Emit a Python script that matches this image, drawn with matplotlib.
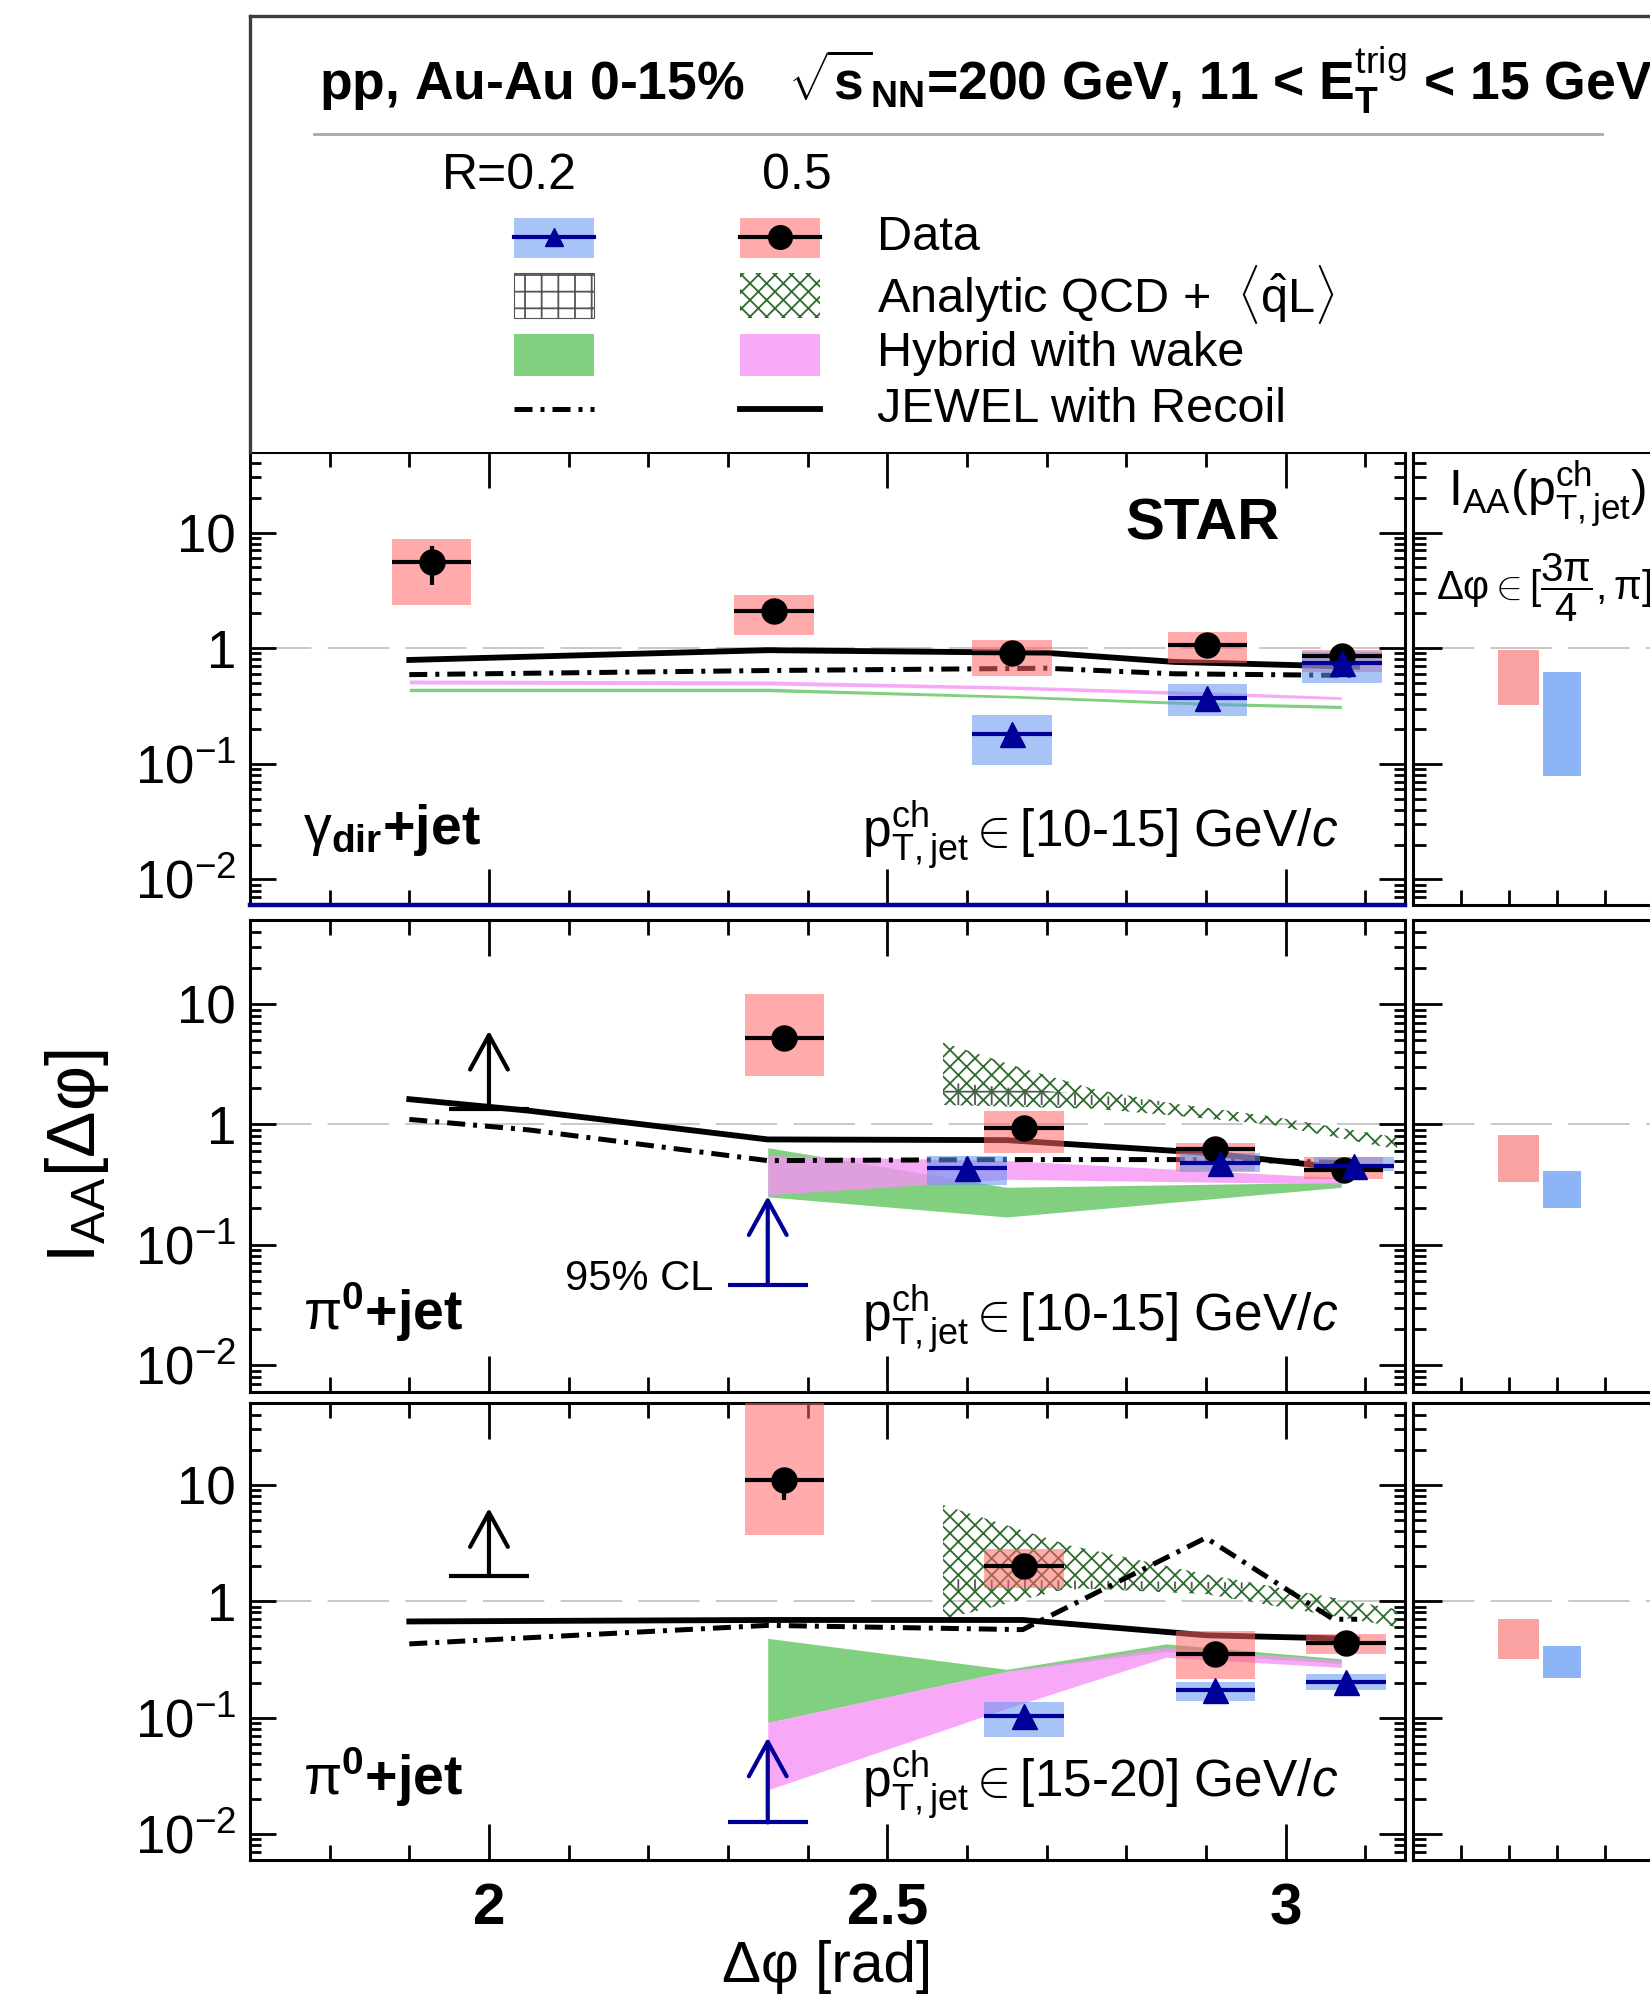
import matplotlib
matplotlib.use("Agg")
import matplotlib.pyplot as plt
from matplotlib.patches import Rectangle
from matplotlib.ticker import FixedLocator, FixedFormatter, MultipleLocator, LogLocator, NullFormatter

# ---------------------------------------------------------------- data
YTICKS = [0.01, 0.1, 1, 10]
YTICK_LABELS = [r'$\mathrm{10^{-2}}$', r'$\mathrm{10^{-1}}$', '1', '10']
XTICKS = [2, 2.5, 3]
XTICK_LABELS = ['2', '2.5', '3']
BIN_HALF = 0.05
INT_CENTERS = [2.2, 3.1]   # R=0.5, R=0.2 positions in the integrated panels

# Panel 1: gamma_dir + jet, pT,jet 10-15
G_R05_X = [1.928, 2.358, 2.657, 2.902, 3.071]
G_R05_Y = [5.6, 2.10, 0.91, 1.06, 0.85]
G_R05_SYS_LO = [2.35, 1.29, 0.575, 0.74, 0.62]
G_R05_SYS_HI = [8.8, 2.86, 1.18, 1.37, 0.97]
G_R05_STAT_LO = [3.55, 1.95, 0.85, 0.98, 0.80]
G_R05_STAT_HI = [7.6, 2.30, 0.98, 1.15, 0.90]
G_R02_X = [2.657, 2.902, 3.071]
G_R02_Y = [0.18, 0.371, 0.74]
G_R02_SYS_LO = [0.097, 0.258, 0.50]
G_R02_SYS_HI = [0.264, 0.489, 0.92]
G_R02_STAT_LO = [0.15, 0.33, 0.68]
G_R02_STAT_HI = [0.21, 0.42, 0.82]
G_JEWEL_X = [1.90, 2.35, 2.70, 2.86, 3.09]
G_JEWEL_R05 = [0.79, 0.96, 0.91, 0.76, 0.69]
G_JEWEL_R02 = [0.59, 0.64, 0.67, 0.60, 0.58]
G_HYB_X = [1.90, 2.35, 2.66, 2.90, 3.07]
G_HYB_R02_LO = [0.42, 0.42, 0.37, 0.32, 0.30]
G_HYB_R02_HI = [0.45, 0.45, 0.39, 0.34, 0.32]
G_HYB_R05_LO = [0.49, 0.48, 0.44, 0.39, 0.36]
G_HYB_R05_HI = [0.53, 0.52, 0.47, 0.42, 0.38]
G_INT_R05 = [0.32, 0.96]
G_INT_R02 = [0.079, 0.62]

# Panel 2: pi0 + jet, pT,jet 10-15
P1_R05_X = [2.371, 2.672, 2.912, 3.073]
P1_R05_Y = [5.18, 0.94, 0.62, 0.42]
P1_R05_SYS_LO = [2.53, 0.58, 0.41, 0.35]
P1_R05_SYS_HI = [12.1, 1.29, 0.70, 0.54]
P1_R05_STAT_LO = [4.6, 0.86, 0.57, 0.39]
P1_R05_STAT_HI = [5.8, 1.02, 0.67, 0.45]
P1_R02_X = [2.600, 2.918, 3.086]
P1_R02_Y = [0.435, 0.48, 0.455]
P1_R02_SYS_LO = [0.316, 0.40, 0.41]
P1_R02_SYS_HI = [0.544, 0.58, 0.54]
P1_R02_STAT_LO = [0.40, 0.45, 0.43]
P1_R02_STAT_HI = [0.47, 0.51, 0.48]
P1_LIM_R05 = [2.0, 1.35, 6.0]      # x, limit, arrow tip
P1_LIM_R02 = [2.35, 0.0464, 0.253]
P1_JEWEL_X = [1.90, 2.05, 2.35, 2.65, 2.90, 3.09]
P1_JEWEL_R05 = [1.62, 1.30, 0.75, 0.74, 0.58, 0.42]
P1_JEWEL_R02 = [1.10, 0.90, 0.50, 0.51, 0.51, 0.48]
P1_HYB_X = [2.35, 2.65, 3.07]
P1_HYB_R02_LO = [0.25, 0.17, 0.30]
P1_HYB_R02_HI = [0.64, 0.30, 0.33]
P1_HYB_R05_LO = [0.26, 0.35, 0.32]
P1_HYB_R05_HI = [0.55, 0.50, 0.36]
P1_ANA_X = [2.57, 2.66, 2.76, 2.85, 2.98, 3.14]
P1_ANA_R05_LO = [1.45, 1.40, 1.35, 1.20, 1.00, 0.62]
P1_ANA_R05_HI = [4.8, 3.06, 1.96, 1.52, 1.17, 0.78]
P1_ANA_R02_X = [2.57, 2.66, 2.85]
P1_ANA_R02_LO = [1.45, 1.45, 1.45]
P1_ANA_R02_HI = [2.25, 2.0, 1.55]
P1_INT_R05 = [0.33, 0.82]
P1_INT_R02 = [0.20, 0.41]

# Panel 3: pi0 + jet, pT,jet 15-20
P2_R05_X = [2.371, 2.672, 2.912, 3.076]
P2_R05_Y = [10.9, 2.0, 0.35, 0.44]
P2_R05_SYS_LO = [3.73, 1.30, 0.216, 0.35]
P2_R05_SYS_HI = [60.0, 2.81, 0.553, 0.52]
P2_R05_STAT_LO = [7.4, 1.85, 0.32, 0.41]
P2_R05_STAT_HI = [13.5, 2.15, 0.38, 0.47]
P2_R02_X = [2.672, 2.912, 3.076]
P2_R02_Y = [0.1035, 0.172, 0.204]
P2_R02_SYS_LO = [0.068, 0.139, 0.172]
P2_R02_SYS_HI = [0.135, 0.202, 0.235]
P2_R02_STAT_LO = [0.095, 0.16, 0.19]
P2_R02_STAT_HI = [0.112, 0.185, 0.22]
P2_LIM_R05 = [2.0, 1.66, 6.3]
P2_LIM_R02 = [2.35, 0.0126, 0.0675]
P2_JEWEL_X = [1.90, 2.35, 2.67, 2.90, 3.06, 3.09]
P2_JEWEL_R05 = [0.67, 0.69, 0.69, 0.51, 0.48, 0.47]
P2_JEWEL_R02 = [0.43, 0.62, 0.57, 3.5, 0.70, 0.70]
P2_HYB_X = [2.35, 2.65, 2.85, 3.07]
P2_HYB_R02_LO = [0.091, 0.25, 0.37, 0.29]
P2_HYB_R02_HI = [0.48, 0.26, 0.43, 0.32]
P2_HYB_R05_LO = [0.024, 0.12, 0.33, 0.27]
P2_HYB_R05_HI = [0.091, 0.25, 0.40, 0.31]
P2_ANA_X = [2.57, 2.73, 2.90, 3.14]
P2_ANA_R05_LO = [0.70, 1.30, 1.15, 0.60]
P2_ANA_R05_HI = [6.7, 3.0, 1.7, 0.85]
P2_ANA_R02_X = [2.57, 2.95]
P2_ANA_R02_LO = [1.25, 1.28]
P2_ANA_R02_HI = [1.55, 1.45]
P2_INT_R05 = [0.316, 0.71]
P2_INT_R02 = [0.22, 0.41]

# ---------------------------------------------------------------- style
plt.rcParams['font.family'] = ['Liberation Sans', 'DejaVu Sans']
plt.rcParams['mathtext.fontset'] = 'custom'
plt.rcParams['mathtext.rm'] = 'Liberation Sans'
plt.rcParams['mathtext.it'] = 'Liberation Sans:italic'
plt.rcParams['mathtext.bf'] = 'Liberation Sans:bold'
plt.rcParams['hatch.linewidth'] = 1.3

W, H = 1650, 2000
RED_FC = (1.0, 0.40, 0.40)
BLUE_FC = (0.38, 0.58, 0.95)
BOX_ALPHA = 0.55
NAVY = '#000099'
GREEN = '#80d080'
PINK = '#f694f6'
HATCH_GREEN = '#2d6b2d'
BRICK_GRAY = '#555555'

fig = plt.figure(figsize=(16.5, 20), dpi=100)


def rect_px(l, t, r, b):
    return [l / W, 1 - b / H, (r - l) / W, (b - t) / H]


def style_main(ax, bottom_labels):
    ax.set_yscale('log')
    ax.set_ylim(0.006, 50)
    ax.set_xlim(1.7, 3.15)
    ax.yaxis.set_major_locator(FixedLocator(YTICKS))
    ax.yaxis.set_major_formatter(FixedFormatter(YTICK_LABELS))
    ax.yaxis.set_minor_locator(LogLocator(base=10, subs=range(2, 10), numticks=30))
    ax.yaxis.set_minor_formatter(NullFormatter())
    ax.xaxis.set_major_locator(FixedLocator(XTICKS))
    ax.xaxis.set_minor_locator(MultipleLocator(0.1))
    ax.tick_params(which='both', direction='in', top=True, right=True, width=2)
    ax.tick_params(axis='x', which='major', length=26, labelsize=42, pad=16)
    ax.tick_params(axis='x', which='minor', length=11)
    ax.tick_params(axis='y', which='major', length=19, labelsize=38, pad=10)
    ax.tick_params(axis='y', which='minor', length=8)
    if bottom_labels:
        ax.xaxis.set_major_formatter(FixedFormatter(XTICK_LABELS))
        for lab in ax.get_xticklabels():
            lab.set_fontweight('bold')
    else:
        ax.tick_params(axis='x', labelbottom=False)
    for s in ax.spines.values():
        s.set_linewidth(2.2)


def style_int(ax):
    ax.set_yscale('log')
    ax.set_ylim(0.006, 50)
    ax.set_xlim(0, (1665 - 1413) / 48.0)
    ax.yaxis.set_major_locator(FixedLocator(YTICKS))
    ax.yaxis.set_minor_locator(LogLocator(base=10, subs=range(2, 10), numticks=30))
    ax.yaxis.set_major_formatter(NullFormatter())
    ax.yaxis.set_minor_formatter(NullFormatter())
    ax.xaxis.set_major_locator(MultipleLocator(1))
    ax.xaxis.set_major_formatter(NullFormatter())
    ax.tick_params(which='both', direction='in', width=2)
    ax.tick_params(axis='x', which='major', length=11)
    ax.tick_params(axis='y', which='major', length=21)
    ax.tick_params(axis='y', which='minor', length=9)
    for s in ax.spines.values():
        s.set_linewidth(2.2)
    ax.axhline(1, color='#c4c4c4', lw=1.3, dashes=(34, 9), zorder=0.5)


def draw_boxes(ax, xs, lo, hi, fc, z):
    for x, l, h in zip(xs, lo, hi):
        ax.add_patch(Rectangle((x - BIN_HALF, l), 2 * BIN_HALF, h - l, facecolor=fc,
                               alpha=BOX_ALPHA, lw=0, zorder=z))


def draw_points(ax, xs, ys, slo, shi, fmt, color, z):
    yerr = [[y - l for y, l in zip(ys, slo)], [h - y for y, h in zip(ys, shi)]]
    ax.errorbar(xs, ys, xerr=BIN_HALF, yerr=yerr, fmt=fmt, color=color, ms=18,
                elinewidth=3, capsize=0, zorder=z)


def draw_limit(ax, lim, color):
    x, base, tip = lim
    ax.plot([x - BIN_HALF, x + BIN_HALF], [base, base], color=color, lw=3, zorder=6,
            solid_capstyle='butt')
    ax.annotate('', xy=(x, tip), xytext=(x, base),
                arrowprops=dict(arrowstyle='->,head_length=0.62,head_width=0.34',
                                color=color, lw=3, mutation_scale=40,
                                shrinkA=0, shrinkB=0), zorder=6)


def draw_panel(ax, d):
    ax.axhline(1, color='#c4c4c4', lw=1.3, dashes=(34, 9), zorder=0.5)
    ax.fill_between(d['hyb_x'], d['hyb02_lo'], d['hyb02_hi'], color=GREEN, lw=0, zorder=1)
    ax.fill_between(d['hyb_x'], d['hyb05_lo'], d['hyb05_hi'], color=PINK, alpha=0.81,
                    lw=0, zorder=1.1)
    if d.get('ana_x') is not None:
        ax.fill_between(d['ana_x'], d['ana05_lo'], d['ana05_hi'], facecolor='none',
                        edgecolor=HATCH_GREEN, hatch='xx', lw=0, zorder=2)
        ax.fill_between(d['ana02_x'], d['ana02_lo'], d['ana02_hi'], facecolor='none',
                        edgecolor=BRICK_GRAY, hatch='+', lw=0, zorder=2.1)
    ax.plot(d['jx'], d['j05'], color='k', lw=4.2, zorder=3, solid_joinstyle='round')
    ax.plot(d['jx'], d['j02'], color='k', lw=3.6, dashes=(3.6, 1.6, 0.8, 1.6), zorder=3)
    draw_boxes(ax, d['r05_x'], d['r05_slo'], d['r05_shi'], RED_FC, 4)
    draw_boxes(ax, d['r02_x'], d['r02_slo'], d['r02_shi'], BLUE_FC, 4.1)
    draw_points(ax, d['r05_x'], d['r05_y'], d['r05_tlo'], d['r05_thi'], 'o', 'k', 6)
    draw_points(ax, d['r02_x'], d['r02_y'], d['r02_tlo'], d['r02_thi'], '^', NAVY, 6.1)
    if d.get('lim05') is not None:
        draw_limit(ax, d['lim05'], 'k')
        draw_limit(ax, d['lim02'], NAVY)


def draw_int(ax, r05, r02):
    ax.add_patch(Rectangle((INT_CENTERS[0] - 0.42, r05[0]), 0.84, r05[1] - r05[0],
                           facecolor='#f8a2a2', lw=0, zorder=2))
    ax.add_patch(Rectangle((INT_CENTERS[1] - 0.40, r02[0]), 0.80, r02[1] - r02[0],
                           facecolor='#8cb4f6', lw=0, zorder=2))


panels = [
    dict(box=(451.7, 905), r05_x=G_R05_X, r05_y=G_R05_Y, r05_slo=G_R05_SYS_LO, r05_shi=G_R05_SYS_HI,
         r05_tlo=G_R05_STAT_LO, r05_thi=G_R05_STAT_HI,
         r02_x=G_R02_X, r02_y=G_R02_Y, r02_slo=G_R02_SYS_LO, r02_shi=G_R02_SYS_HI,
         r02_tlo=G_R02_STAT_LO, r02_thi=G_R02_STAT_HI,
         jx=G_JEWEL_X, j05=G_JEWEL_R05, j02=G_JEWEL_R02,
         hyb_x=G_HYB_X, hyb02_lo=G_HYB_R02_LO, hyb02_hi=G_HYB_R02_HI,
         hyb05_lo=G_HYB_R05_LO, hyb05_hi=G_HYB_R05_HI,
         int05=G_INT_R05, int02=G_INT_R02,
         trig=r'$\mathrm{γ}_{\mathbf{dir}}$+jet', trig_y=0.135,
         pt=r'$\mathrm{p}_{\mathrm{T,jet}}^{\mathrm{ch}}\in$[10-15] GeV/$c$', pt_y=0.126),
    dict(box=(920, 1391.7), r05_x=P1_R05_X, r05_y=P1_R05_Y, r05_slo=P1_R05_SYS_LO, r05_shi=P1_R05_SYS_HI,
         r05_tlo=P1_R05_STAT_LO, r05_thi=P1_R05_STAT_HI,
         r02_x=P1_R02_X, r02_y=P1_R02_Y, r02_slo=P1_R02_SYS_LO, r02_shi=P1_R02_SYS_HI,
         r02_tlo=P1_R02_STAT_LO, r02_thi=P1_R02_STAT_HI,
         jx=P1_JEWEL_X, j05=P1_JEWEL_R05, j02=P1_JEWEL_R02,
         hyb_x=P1_HYB_X, hyb02_lo=P1_HYB_R02_LO, hyb02_hi=P1_HYB_R02_HI,
         hyb05_lo=P1_HYB_R05_LO, hyb05_hi=P1_HYB_R05_HI,
         ana_x=P1_ANA_X, ana05_lo=P1_ANA_R05_LO, ana05_hi=P1_ANA_R05_HI,
         ana02_x=P1_ANA_R02_X, ana02_lo=P1_ANA_R02_LO, ana02_hi=P1_ANA_R02_HI,
         lim05=P1_LIM_R05, lim02=P1_LIM_R02,
         int05=P1_INT_R05, int02=P1_INT_R02,
         trig=r'$\mathrm{π}^{\mathbf{0}}$+jet', trig_y=0.131,
         pt=r'$\mathrm{p}_{\mathrm{T,jet}}^{\mathrm{ch}}\in$[10-15] GeV/$c$', pt_y=0.127),
    dict(box=(1403.3, 1860), r05_x=P2_R05_X, r05_y=P2_R05_Y, r05_slo=P2_R05_SYS_LO, r05_shi=P2_R05_SYS_HI,
         r05_tlo=P2_R05_STAT_LO, r05_thi=P2_R05_STAT_HI,
         r02_x=P2_R02_X, r02_y=P2_R02_Y, r02_slo=P2_R02_SYS_LO, r02_shi=P2_R02_SYS_HI,
         r02_tlo=P2_R02_STAT_LO, r02_thi=P2_R02_STAT_HI,
         jx=P2_JEWEL_X, j05=P2_JEWEL_R05, j02=P2_JEWEL_R02,
         hyb_x=P2_HYB_X, hyb02_lo=P2_HYB_R02_LO, hyb02_hi=P2_HYB_R02_HI,
         hyb05_lo=P2_HYB_R05_LO, hyb05_hi=P2_HYB_R05_HI,
         ana_x=P2_ANA_X, ana05_lo=P2_ANA_R05_LO, ana05_hi=P2_ANA_R05_HI,
         ana02_x=P2_ANA_R02_X, ana02_lo=P2_ANA_R02_LO, ana02_hi=P2_ANA_R02_HI,
         lim05=P2_LIM_R05, lim02=P2_LIM_R02,
         int05=P2_INT_R05, int02=P2_INT_R02,
         trig=r'$\mathrm{π}^{\mathbf{0}}$+jet', trig_y=0.142,
         pt=r'$\mathrm{p}_{\mathrm{T,jet}}^{\mathrm{ch}}\in$[15-20] GeV/$c$', pt_y=0.136),
]

for i, d in enumerate(panels):
    top, bot = d['box']
    ax = fig.add_axes(rect_px(250, top, 1405, bot))
    draw_panel(ax, d)
    style_main(ax, bottom_labels=(i == 2))
    ax.text(0.046, d['trig_y'], d['trig'], transform=ax.transAxes, fontsize=40,
            fontweight='bold', ha='left', va='baseline', zorder=8)
    ax.text(0.53, d['pt_y'], d['pt'], transform=ax.transAxes, fontsize=37,
            ha='left', va='baseline', zorder=8)
    if i == 0:
        ax.spines['bottom'].set_color(NAVY)
        ax.spines['bottom'].set_linewidth(3.2)
        ax.text(0.825, 0.84, 'STAR', transform=ax.transAxes, fontsize=42,
                fontweight='bold', ha='center', va='center', zorder=8)
    if i == 1:
        ax.text(0.401, 0.216, '95% CL', transform=ax.transAxes, fontsize=30,
                ha='right', va='baseline', zorder=8)
    axr = fig.add_axes(rect_px(1413, top, 1665, bot))
    style_int(axr)
    draw_int(axr, d['int05'], d['int02'])
    if i == 0:
        axr.text(0.14, 0.905, r'$\mathrm{I}_{\mathrm{AA}}(\mathrm{p}_{\mathrm{T,jet}}^{\mathrm{ch}})$',
                 transform=axr.transAxes, fontsize=36, ha='left', va='center')
        axr.text(0.09, 0.70, r'$\Delta\mathrm{φ}\in[\dfrac{3\mathrm{π}}{4},\mathrm{π}]$',
                 transform=axr.transAxes, fontsize=29, ha='left', va='center')

# axis titles
fig.text(77 / W, 1 - 1156 / H, r'$\mathrm{I}_{\mathrm{AA}}[\Delta\mathrm{φ}]$', rotation=90,
         fontsize=50, ha='center', va='center')
fig.text(827 / W, 1 - 1967 / H, 'Δφ [rad]', fontsize=42, ha='center', va='center')

# ---------------------------------------------------------------- legend box (pixel layout)
axL = fig.add_axes(rect_px(250, 16, 1665, 451.7))
axL.set_xlim(250, 1665)
axL.set_ylim(451.7, 16)
axL.set_xticks([])
axL.set_yticks([])
for s in axL.spines.values():
    s.set_linewidth(2.4)
    s.set_color('#3c3c3c')
axL.spines['bottom'].set_visible(False)

axL.text(319, 100, r'pp, Au-Au 0-15%   $\sqrt{\mathbf{s}}_{\mathbf{NN}}$=200 GeV, 11 < '
         r'$\mathbf{E}_{\mathbf{T}}^{\mathrm{trig}}$ < 15 GeV',
         fontsize=38.5, fontweight='bold', ha='left', va='baseline')
axL.plot([314, 1602], [134, 134], color='#a8a8a8', lw=2)
axL.text(442, 189, 'R=0.2', fontsize=36, ha='left', va='baseline')
axL.text(762, 189, '0.5', fontsize=36, ha='left', va='baseline')

c1, c2, sw = 514, 740, 80
# Data
axL.add_patch(Rectangle((c1, 218), sw, 40, facecolor=BLUE_FC, alpha=BOX_ALPHA, lw=0))
axL.plot([c1, c1 + sw], [237, 237], color=NAVY, lw=3)
axL.plot([c1 + sw / 2], [237], marker='^', color=NAVY, ms=13)
axL.add_patch(Rectangle((c2, 218), sw, 40, facecolor=RED_FC, alpha=BOX_ALPHA, lw=0))
axL.plot([c2, c2 + sw], [237, 237], color='k', lw=3)
axL.plot([c2 + sw / 2], [237], marker='o', color='k', ms=17)
# Analytic
axL.add_patch(Rectangle((c1, 273), sw, 45, facecolor='white', edgecolor=BRICK_GRAY,
                        hatch='+', lw=0.8))
axL.add_patch(Rectangle((c2, 273), sw, 45, facecolor='none', edgecolor=HATCH_GREEN,
                        hatch='xx', lw=0))
# Hybrid
axL.add_patch(Rectangle((c1, 334), sw, 42, facecolor=GREEN, lw=0))
axL.add_patch(Rectangle((c2, 334), sw, 42, facecolor=PINK, alpha=0.81, lw=0))
# JEWEL
axL.plot([c1, c1 + sw], [409, 409], color='k', lw=3.6, dashes=(3.6, 1.6, 0.8, 1.6))
axL.plot([c2, c2 + sw], [409, 409], color='k', lw=4.2)

for y, lab in zip([237, 295, 353, 409],
                  ['Data', r'Analytic QCD +  $\langle\hat{\mathrm{q}}\mathrm{L}\rangle$',
                   'Hybrid with wake', 'JEWEL with Recoil']):
    axL.text(877, y, lab, fontsize=35, ha='left', va='center')

fig.savefig('out.png', dpi=100)
